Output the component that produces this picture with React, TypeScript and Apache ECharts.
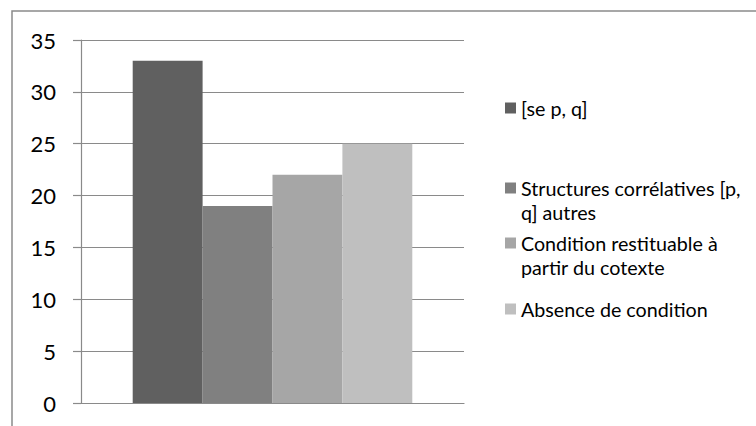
import React, { useEffect, useRef } from "react";
import * as echarts from "echarts";

const categories = [""];
const seriesNames = [
  "[se p, q]",
  "Structures corrélatives [p, q] autres",
  "Condition restituable à partir du cotexte",
  "Absence de condition",
];
const legendLines = [
  ["[se p, q]"],
  ["Structures corrélatives [p,", "q] autres"],
  ["Condition restituable à", "partir du cotexte"],
  ["Absence de condition"],
];
const seriesValues = [33, 19, 22, 25];
const seriesColors = ["#606060", "#808080", "#a6a6a6", "#bfbfbf"];
const legendMarkerY = [108, 188, 243, 309];

const FONT = "Lato";

export default function App() {
  const ref = useRef<HTMLDivElement>(null);
  useEffect(() => {
    if (!ref.current) return;
    const chart = echarts.init(ref.current, null, { renderer: "svg" });
    const lineColor = "#8a8a8a";
    const option: any = {
      animation: false,
      backgroundColor: "#ffffff",
      grid: { left: 81, right: 292, top: 40, bottom: 23, containLabel: false },
      xAxis: {
        type: "category",
        data: categories,
        axisLine: { show: true, lineStyle: { color: lineColor, width: 1.2 } },
        axisTick: { show: false },
        axisLabel: { show: false },
        splitLine: { show: false },
      },
      yAxis: {
        type: "value",
        min: 0,
        max: 35,
        interval: 5,
        axisLine: { show: true, lineStyle: { color: lineColor, width: 1.2 } },
        axisTick: { show: true, length: 8, lineStyle: { color: lineColor, width: 1.2 } },
        splitLine: { show: true, lineStyle: { color: lineColor, width: 1.2 } },
        axisLabel: {
          margin: 25,
          color: "#000",
          fontFamily: FONT,
          fontSize: 22,
        },
      },
      legend: seriesNames.map((name, i) => {
        const lines = legendLines[i];
        const two = lines.length === 2;
        return {
          data: [name],
          orient: "vertical",
          left: 505,
          top: two ? legendMarkerY[i] - 36 : legendMarkerY[i] - 12,
          icon: "rect",
          itemWidth: 11,
          itemHeight: 11,
          padding: 0,
          formatter: () =>
            two
              ? `{g| }\n{t|${lines[0]}}\n{t|${lines[1]}}`
              : `{t|${lines[0]}}`,
          textStyle: {
            fontFamily: FONT,
            fontSize: 19.7,
            lineHeight: 24,
            color: "#000",
            rich: {
              g: { fontSize: 10, lineHeight: 24, fontFamily: FONT },
              t: { fontSize: 19.7, lineHeight: 24, fontFamily: FONT, color: "#000" },
            },
          },
        };
      }),
      series: seriesNames.map((name, i) => ({
        name,
        type: "bar",
        data: [seriesValues[i]],
        barGap: "0%",
        barCategoryGap: "27%",
        itemStyle: { color: seriesColors[i] },
      })),
      graphic: [
        {
          type: "rect",
          shape: { x: 12, y: 11, width: 760, height: 430 },
          style: { fill: "none", stroke: lineColor, lineWidth: 1.5 },
          silent: true,
        },
      ],
    };
    chart.setOption(option);
    return () => chart.dispose();
  }, []);
  return (
    <div
      ref={ref}
      style={{ position: "fixed", left: 0, top: 0, width: 756, height: 426 }}
    />
  );
}
